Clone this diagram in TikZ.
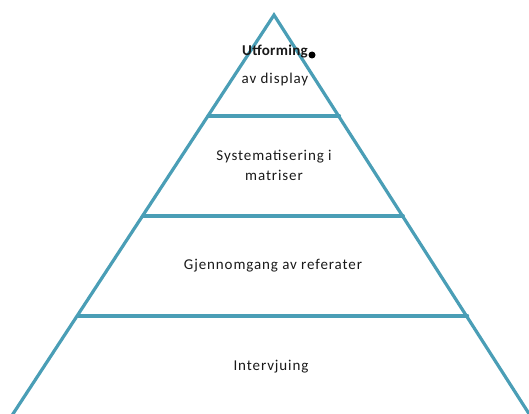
\documentclass[tikz,border=0pt]{standalone}
\usepackage{fontspec}
\setmainfont{Carlito}
\definecolor{teal}{RGB}{74,158,182}
\definecolor{txt}{RGB}{25,25,25}
\tikzset{
  tier/.style={draw=teal, line width=3.2pt, line cap=round},
  lbl/.style={text=txt, font=\fontsize{15}{18}\selectfont\addfontfeature{LetterSpace=6}, align=center, inner sep=0pt}
}
\begin{document}
\begin{tikzpicture}[x=1pt,y=-1pt]
\useasboundingbox (0,0) rectangle (529,414);
\clip (0,0) rectangle (529,414);
\coordinate (apex) at (274,15);
\coordinate (bl) at (9,420);
\coordinate (br) at (533,420);
\coordinate (a1) at (208.2,116);
\coordinate (b1) at (339.5,116);
\coordinate (a2) at (143.2,216);
\coordinate (b2) at (403.3,216);
\coordinate (a3) at (78,316);
\coordinate (b3) at (467.6,316);
\draw[tier] (bl) -- (apex) -- (br);
\draw[tier] (a1) -- (b1);
\draw[tier] (a2) -- (b2);
\draw[tier] (a3) -- (b3);
\node[lbl, font=\fontsize{15}{18}\selectfont\bfseries\addfontfeature{LetterSpace=2}] (t1) at (275,52) {Utforming};
\node[lbl] (t1b) at (275,80) {av display};
\fill[black] (312,55) circle (3.5);
\node[lbl] (t2) at (274,157) {Systematisering i};
\node[lbl] (t2b) at (274,175) {matriser};
\node[lbl] (t3) at (273,266) {Gjennomgang av referater};
\node[lbl] (t4) at (271,367) {Intervjuing};
\end{tikzpicture}
\end{document}
